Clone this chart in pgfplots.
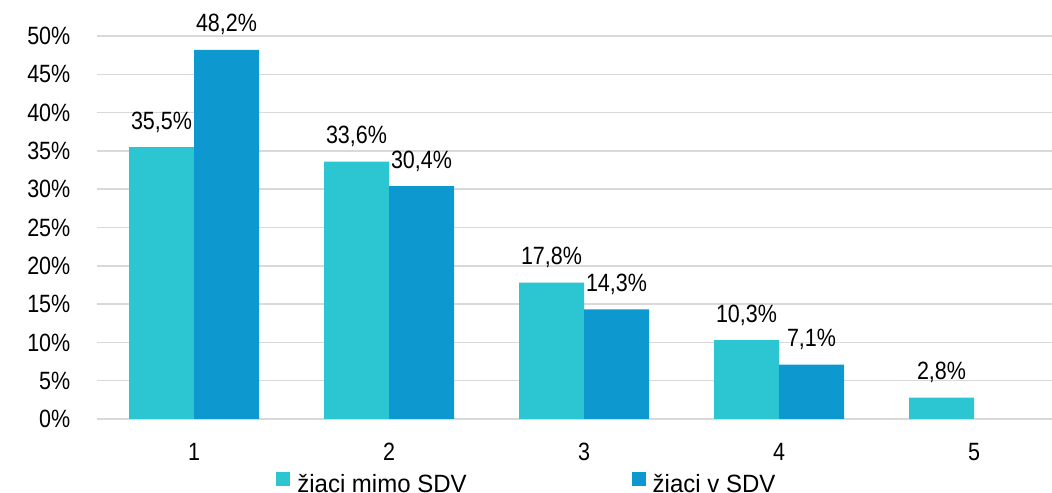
\documentclass[border=0pt]{standalone}
\usepackage{fontspec}
\setmainfont{Liberation Sans}[FakeStretch=0.86]
\newfontfamily\legfont{Liberation Sans}[FakeStretch=0.96]
\usepackage{pgfplots}
\pgfplotsset{compat=1.18}
\definecolor{cA}{RGB}{44,197,210}
\definecolor{cB}{RGB}{14,152,208}
\definecolor{gridc}{RGB}{217,217,217}
\begin{document}
\begin{tikzpicture}
\begin{axis}[
  at={(96.5bp,74bp)}, anchor=south west,
  scale only axis, width=955.5bp, height=383bp,
  xmin=-0.5, xmax=4.4, ymin=0, ymax=50,
  axis line style={draw=none},
  ytick={0,5,...,50},
  xtick={0,1,2,3,4}, xticklabels={1,2,3,4,5},
  major tick length=0pt,
  ymajorgrids, grid style={gridc, line width=1.5bp},
  /pgf/number format/assume math mode=true,
  yticklabel={\pgfmathprintnumber{\tick}\%},
  tick label style={font=\fontsize{25bp}{30bp}\selectfont, text=black},
  yticklabel style={inner sep=0pt, xshift=-26bp, anchor=east},
  xticklabel style={inner sep=0pt, yshift=-24bp, anchor=north},
  ybar=0pt, bar width=65bp,
  nodes near coords={\pgfmathprintnumber[fixed,fixed zerofill,precision=1,use comma]{\pgfplotspointmeta}\%},
  nodes near coords style={font=\fontsize{25bp}{30bp}\selectfont, text=black, anchor=base, inner sep=0pt, yshift=18bp},
  legend columns=2,
  legend image code/.code={\path[#1,draw=none] (0bp,-2bp) rectangle (14bp,12bp);},
  legend style={at={(0.188,-0.166)}, anchor=west, draw=none, fill=none, inner sep=0pt,
    font=\legfont\fontsize{25bp}{30bp}\selectfont,
    nodes={inner sep=0pt},
    /tikz/every odd column/.append style={column sep=7bp},
    /tikz/every even column/.append style={column sep=165bp}},
]
\addplot[fill=cA, draw=none] coordinates {(0,35.5) (1,33.6) (2,17.8) (3,10.3) (4,2.8)};
\addplot[fill=cB, draw=none] coordinates {(0,48.2) (1,30.4) (2,14.3) (3,7.1)};
\legend{žiaci mimo SDV, žiaci v SDV}
\end{axis}
\pgfresetboundingbox
\path (0,0) rectangle (1052bp,493bp);
\end{tikzpicture}
\end{document}
